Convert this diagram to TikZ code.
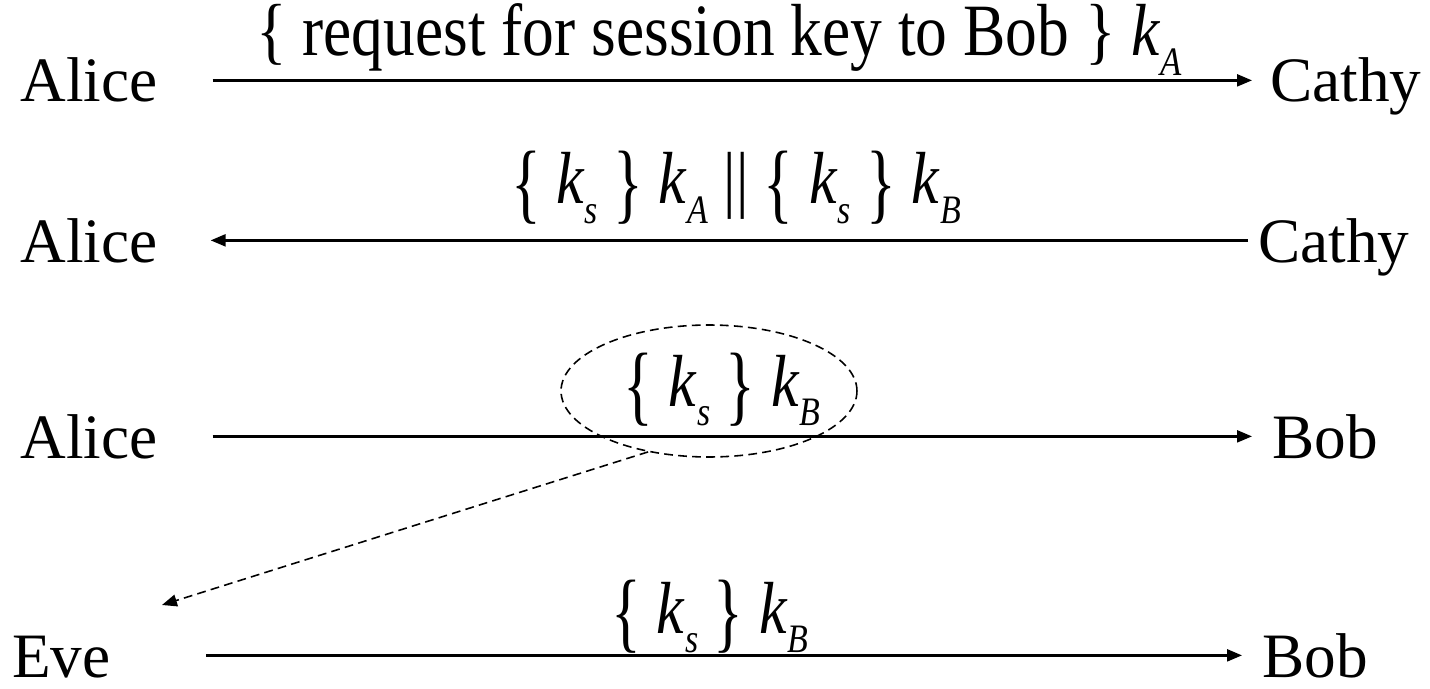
\documentclass[tikz,border=0pt]{standalone}
\usepackage{fontspec}
\setmainfont{Liberation Serif}
\usetikzlibrary{arrows.meta,shapes.geometric}
\tikzset{>={Triangle[length=8.5pt,width=6.8pt]}}
\newcommand{\keyk}[1]{\textit{k}\raisebox{-0.27em}{\fontsize{23}{23}\selectfont\textit{#1}}}
\newcommand{\lbr}{\raisebox{-0.11em}{\scalebox{1}[1.2]{\{}}}
\newcommand{\rbr}{\raisebox{-0.11em}{\scalebox{1}[1.2]{\}}}}
\newcommand{\squeeze}[2][0.84]{\scalebox{#1}[1]{#2}}

\begin{document}
\begin{tikzpicture}[x=0.02cm,y=-0.02cm,
    every node/.style={font=\fontsize{36}{40}\selectfont, inner sep=0pt},
    party/.style={anchor=base west},
    label/.style={anchor=base, font=\fontsize{42}{46}\selectfont},
    msg/.style={->, line width=1.3pt},
    tap/.style={dashed, line width=0.9pt, dash pattern=on 5pt off 3pt}]
    \useasboundingbox (0,0) rectangle (1430,689);
    % Alice asks Cathy
    \node[party] (alice1) at (20,102) {Alice};
    \node[party] (cathy1) at (1270,102) {Cathy};
    \draw[msg, shorten <=1.1cm, shorten >=0.36cm] (alice1) -- (alice1 -| cathy1.west);
    \node[label] (req) at (719,56) {\squeeze[0.86]{\{ request for session key to Bob \} \keyk{A}}};
    % Cathy answers
    \node[party] (alice2) at (20,262) {Alice};
    \node[party] (cathy2) at (1258,262) {Cathy};
    \draw[msg, shorten >=1.06cm, shorten <=0.2cm] (alice2 -| cathy2.west) -- (alice2);
    \node[label] (ans) at (736,204) {\squeeze{\lbr{} \keyk{s} \rbr{} \keyk{A} \textbar\textbar\ \lbr{} \keyk{s} \rbr{} \keyk{B}}};
    % Alice to Bob, overheard
    \node[party] (alice3) at (20,458) {Alice};
    \node[party] (bob3) at (1272,458) {Bob};
    \draw[msg, shorten <=1.1cm, shorten >=0.4cm] (alice3) -- (alice3 -| bob3.west);
    \node[label] (tick) at (722,406) {\squeeze{\lbr{} \keyk{s} \rbr{} \keyk{B}}};
    \node[draw, ellipse, tap, minimum width=5.92cm, minimum height=2.64cm] (oval) at (709,391) {};
    \coordinate (grab) at (162,605);
    \draw[->, tap] (oval.225) -- (grab);
    % Eve replays
    \node[party] (eve4) at (12,677) {Eve};
    \node[party] (bob4) at (1262,677) {Bob};
    \draw[msg, shorten <=1.9cm, shorten >=0.4cm] (eve4.east |- bob4) -- (bob4);
    \node[label] (replay) at (710,633) {\squeeze{\lbr{} \keyk{s} \rbr{} \keyk{B}}};
\end{tikzpicture}
\end{document}
